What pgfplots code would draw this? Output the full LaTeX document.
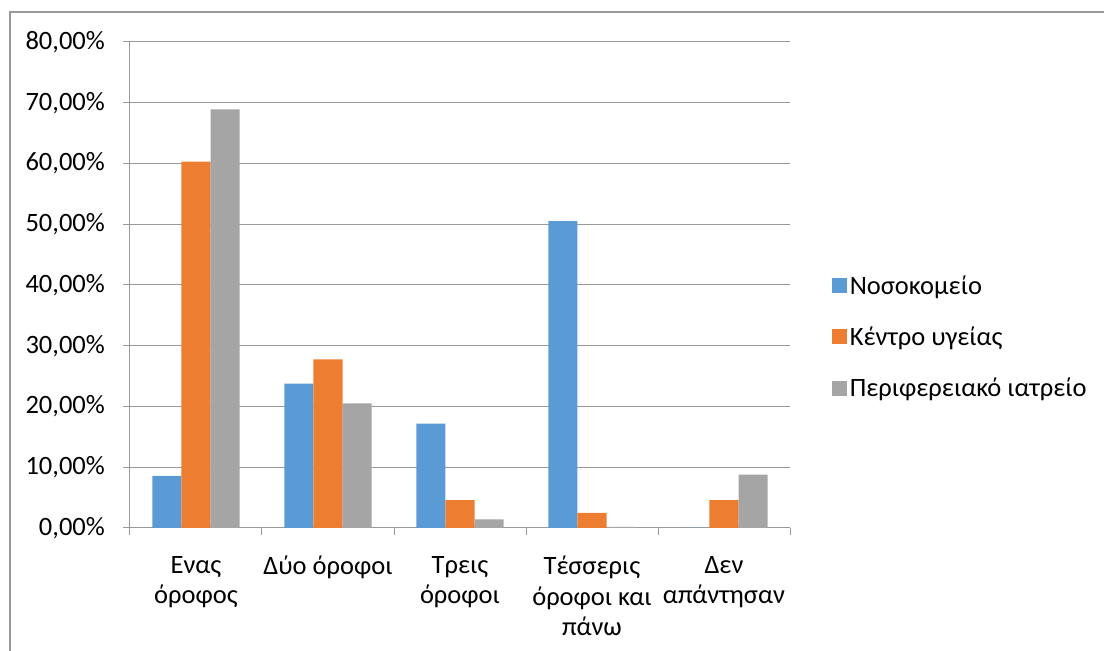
\documentclass[border=0pt]{standalone}
\usepackage{pgfplots}
\pgfplotsset{compat=1.18}
\usepackage{fontspec}
\setmainfont{Carlito}
\definecolor{cblue}{HTML}{5B9BD5}
\definecolor{corange}{HTML}{ED7D31}
\definecolor{cgray}{HTML}{A5A5A5}
\definecolor{cline}{HTML}{999999}
\begin{document}
\begin{tikzpicture}[x=1bp,y=1bp]
\begin{axis}[
  scale only axis, width=660bp, height=486bp,
  ymin=0, ymax=80, ytick={0,10,...,80},
  xmin=-0.5, xmax=4.5,
  ybar=0pt, bar width=0.22,
  axis x line*=bottom, axis y line*=left,
  axis line style={draw=cline, line width=1bp, -},
  ymajorgrids, grid style={draw=cline, line width=1bp},
  tick align=outside, major tick length=7bp,
  tick style={draw=cline, line width=1bp},
  xtick={0,...,4},
  xticklabels={{Ενας\\όροφος},{Δύο όροφοι},{Τρεις\\όροφοι},{Τέσσερις\\όροφοι και\\πάνω},{Δεν\\απάντησαν}},
  x tick style={draw=none},
  extra x ticks={-0.5,0.5,...,4.5},
  extra x tick labels={},
  extra x tick style={grid=none, x tick style={draw=cline, line width=1bp}},
  /pgf/number format/assume math mode=true,
  every tick label/.append style={font=\fontsize{26.5bp}{30.5bp}\selectfont, text=black},
  xticklabel style={align=center, inner sep=0pt, yshift=-21bp},
  yticklabel style={inner sep=0pt, xshift=-18bp},
  yticklabel={\pgfmathprintnumber[fixed,fixed zerofill,precision=2,use comma]{\tick}\%},
  legend style={at={(1.063,0.393)}, anchor=west, draw=none, fill=none,
    font=\fontsize{26.5bp}{30bp}\selectfont, row sep=25bp, inner sep=0pt,
    cells={anchor=west}, nodes={inner sep=3bp}},
]
\addplot[fill=cblue, draw=none, legend image code/.code={\fill[cblue] (0bp,-7.5bp) rectangle (15bp,7.5bp);}]
  coordinates {(0,8.6) (1,23.75) (2,17.2) (3,50.5) (4,0)};
\addplot[fill=corange, draw=none, legend image code/.code={\fill[corange] (0bp,-7.5bp) rectangle (15bp,7.5bp);}]
  coordinates {(0,60.3) (1,27.75) (2,4.6) (3,2.5) (4,4.6)};
\addplot[fill=cgray, draw=none, legend image code/.code={\fill[cgray] (0bp,-7.5bp) rectangle (15bp,7.5bp);}]
  coordinates {(0,68.9) (1,20.5) (2,1.4) (3,0.2) (4,8.8)};
\legend{Νοσοκομείο, Κέντρο υγείας, Περιφερειακό ιατρείο}
\coordinate (sw) at (rel axis cs:0,0);
\end{axis}
\path (sw) ++(-130,-123) coordinate (P0);
\pgfresetboundingbox
\useasboundingbox (P0) rectangle ++(1104,651);
\draw[color=cline, line width=1.3bp] (P0) ++(10,0) -- ++(0,639) -- ++(1094,0);
\end{tikzpicture}
\end{document}
